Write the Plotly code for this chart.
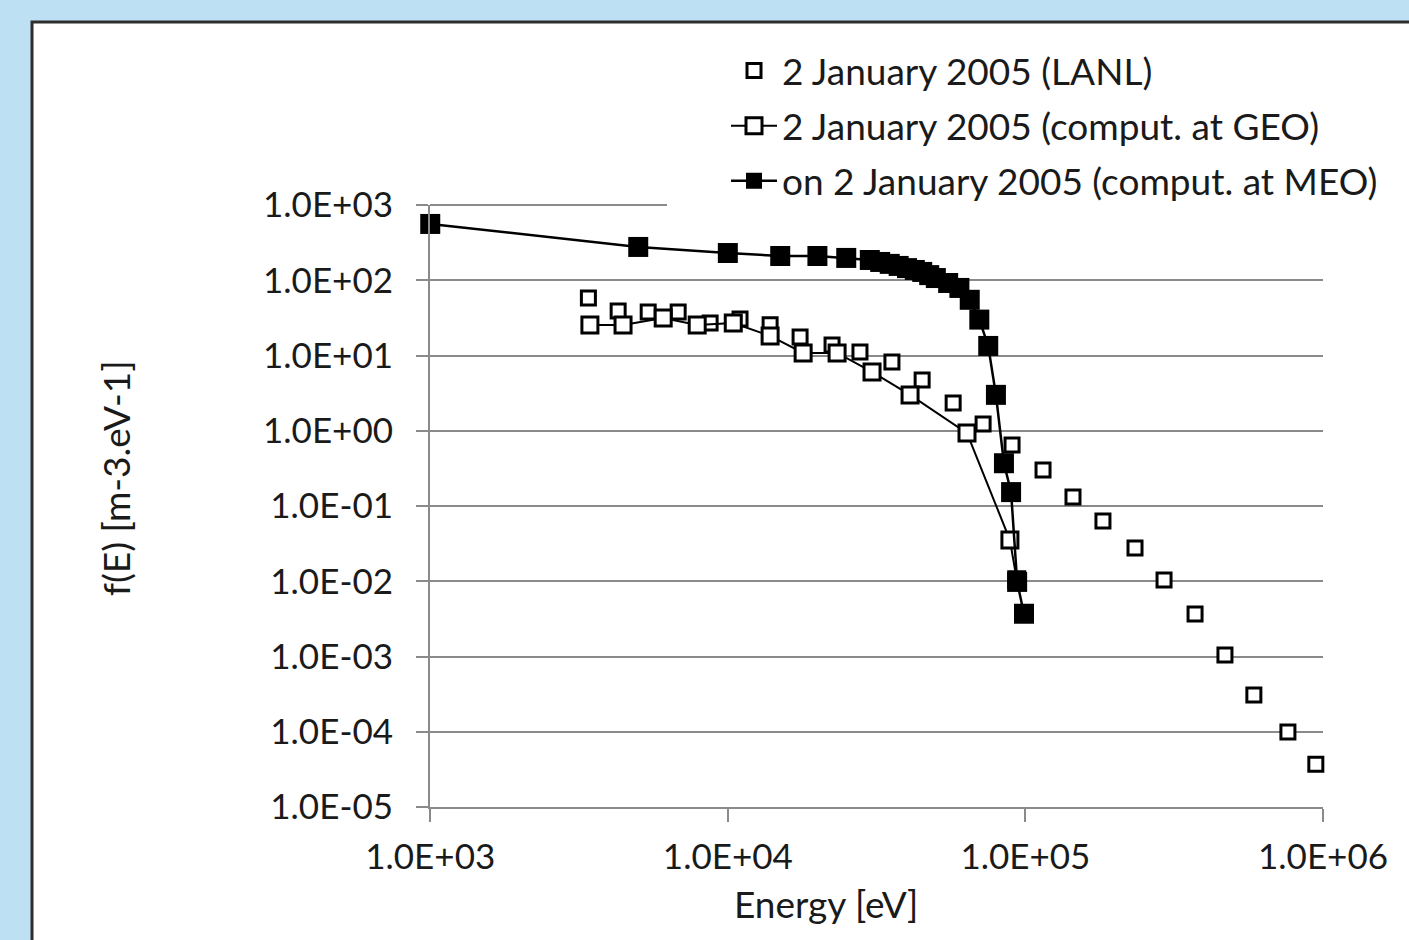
import plotly.graph_objects as go

# ---- data ----
lanl_E = [3400, 4280, 5400, 6810, 8720, 10990, 13870, 17490, 22400, 27800, 35600,
          44970, 57170, 72080, 90170, 114600, 144500, 182200, 233500, 292300,
          371600, 468300, 585700, 762300, 946000]
lanl_f = [58, 39, 37.8, 37.8, 27, 30.6, 25.6, 17.6, 13.8, 11.1, 8.2,
          4.73, 2.34, 1.23, 0.647, 0.30, 0.132, 0.063, 0.0277, 0.0104,
          0.00367, 0.00105, 0.000308, 9.9e-5, 3.7e-5]

geo_E = [3440, 4445, 6065, 7890, 10430, 13870, 17910, 23290, 30520, 40960, 63640, 88700, 93500]
geo_f = [25.4, 25.4, 31.5, 25.4, 27.0, 18.2, 10.8, 10.8, 6.04, 2.99, 0.93, 0.0353, 0.0105]

meo_E = [1000, 5000, 10000, 15000, 20000, 25000, 30000, 32500, 35000, 37500, 40000,
         42500, 45000, 47500, 50000, 55000, 60000, 65000, 70000, 75000, 79600,
         84700, 89500, 93800, 98900]
meo_f = [560, 277, 230, 210, 210, 198, 186, 175, 165, 155, 145,
         137, 129, 117, 107, 92, 79, 55, 30, 13.4, 3.0,
         0.37, 0.153, 0.0098, 0.0037]

y_tickvals = [1e-5, 1e-4, 1e-3, 1e-2, 1e-1, 1, 10, 100, 1000]
y_ticktext = ["1.0E-05", "1.0E-04", "1.0E-03", "1.0E-02", "1.0E-01",
              "1.0E+00", "1.0E+01", "1.0E+02", "1.0E+03"]
x_tickvals = [1e3, 1e4, 1e5, 1e6]
x_ticktext = ["1.0E+03", "1.0E+04", "1.0E+05", "1.0E+06"]

FONT = "Lato, 'Open Sans', sans-serif"
TXT = "#1a1a1a"
GRID = "#8a8a8a"

fig = go.Figure()
fig.add_trace(go.Scatter(
    x=lanl_E, y=lanl_f, mode="markers", name="2 January 2005 (LANL)",
    legendgroup="a", cliponaxis=False,
    marker=dict(symbol="square", size=14, color="white",
                line=dict(color="black", width=3)),
))
fig.add_trace(go.Scatter(
    x=geo_E, y=geo_f, mode="lines+markers", name="2 January 2005 (comput. at GEO)",
    legendgroup="b", cliponaxis=False,
    line=dict(color="black", width=2),
    marker=dict(symbol="square", size=16, color="white",
                line=dict(color="black", width=3)),
))
fig.add_trace(go.Scatter(
    x=meo_E, y=meo_f, mode="lines+markers", name="on 2 January 2005 (comput. at MEO)",
    legendgroup="c", cliponaxis=False,
    line=dict(color="black", width=2.5),
    marker=dict(symbol="square", size=20, color="black",
                line=dict(color="black", width=0)),
))

W, H = 1409, 940
L, R, T, B = 430, 86, 205, 133
pw, ph = W - L - R, H - T - B


def px(x):
    return (x - L) / pw


def py(y):
    return (H - B - y) / ph


fig.update_layout(
    width=W, height=H,
    margin=dict(l=L, r=R, t=T, b=B, autoexpand=False),
    paper_bgcolor="#bde0f3",
    plot_bgcolor="rgba(0,0,0,0)",
    font=dict(family=FONT, size=35, color=TXT),
    showlegend=True,
    legend=dict(
        x=px(726), y=py(40), xanchor="left", yanchor="top",
        bgcolor="rgba(0,0,0,0)", borderwidth=0,
        font=dict(family=FONT, size=37, color=TXT),
        itemwidth=46, tracegroupgap=4, traceorder="grouped",
    ),
    xaxis=dict(
        type="log", range=[2.9992, 6.0],
        tickvals=x_tickvals, ticktext=x_ticktext,
        showgrid=False, zeroline=False,
        showline=True, linecolor=GRID, linewidth=2,
        ticks="outside", ticklen=13, tickwidth=2, tickcolor=GRID,
        ticklabelstandoff=5,
    ),
    yaxis=dict(
        type="log", range=[-5, 3],
        tickvals=y_tickvals, ticktext=y_ticktext,
        showgrid=True, gridcolor=GRID, gridwidth=2, zeroline=False,
        showline=True, linecolor=GRID, linewidth=2,
        ticks="outside", ticklen=12, tickwidth=2, tickcolor=GRID,
        ticklabelstandoff=16,
    ),
    annotations=[
        dict(text="Energy [eV]", xref="paper", yref="paper",
             x=px(826), y=py(903), xanchor="center", yanchor="middle",
             showarrow=False, font=dict(family=FONT, size=37, color=TXT)),
        dict(text="f(E) [m-3.eV-1]", xref="paper", yref="paper",
             x=px(115), y=py(479), xanchor="center", yanchor="middle",
             textangle=-90, showarrow=False,
             font=dict(family=FONT, size=37, color=TXT)),
    ],
    shapes=[
        dict(type="rect", xref="paper", yref="paper", layer="below",
             x0=px(32), x1=px(1430), y0=py(960), y1=py(22),
             fillcolor="white", line=dict(color="#2e2e2e", width=3)),
        dict(type="line", xref="paper", yref="paper", layer="below",
             x0=0, x1=px(667), y0=1, y1=1,
             line=dict(color=GRID, width=2)),
    ],
)

fig.write_html("out.html", config={"displayModeBar": False},
               post_script="document.body.style.margin='0px';")
